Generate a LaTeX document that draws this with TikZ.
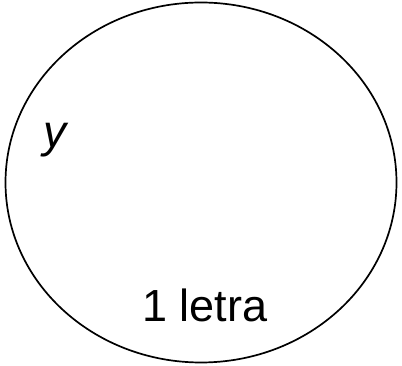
\documentclass[tikz,border=0pt]{standalone}
\usepackage{fontspec}
\setmainfont{Liberation Sans}
\usetikzlibrary{shapes.geometric}

\begin{document}
\begin{tikzpicture}[
    x=1pt, y=1pt,
    set/.style={draw, ellipse, line width=1.7pt, inner sep=0pt,
                minimum width=391pt, minimum height=360pt},
    lbl/.style={font=\fontsize{45}{54}\selectfont, inner sep=0pt, anchor=base},
]
\useasboundingbox (0,0) rectangle (402,366);
\node[set] (conj) at (201,183.5) {};
\node[lbl, font=\fontsize{46}{54}\selectfont\itshape] (var) at (55,218) {y};
\node[lbl] (card) at (205,44) {1 letra};
\end{tikzpicture}
\end{document}
